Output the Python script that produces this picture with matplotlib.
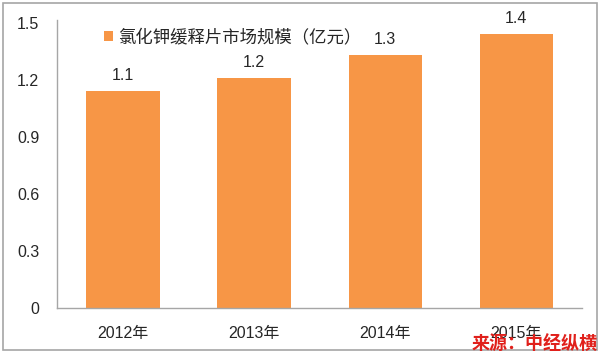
import matplotlib
matplotlib.use("Agg")
import matplotlib.pyplot as plt
from matplotlib.patches import Rectangle

plt.rcParams['font.family'] = ['Liberation Sans', 'Noto Sans CJK SC', 'DejaVu Sans']

# data
years = ['2012年', '2013年', '2014年', '2015年']
market_size = [1.14, 1.21, 1.33, 1.44]
yticks = [0, 0.3, 0.6, 0.9, 1.2, 1.5]
series_name = '氯化钾缓释片市场规模（亿元）'
source = '来源：中经纵横'

fig = plt.figure(figsize=(6.04, 3.56), dpi=100)
ax = fig.add_axes([0.0949, 0.1362, 0.8687, 0.8076])

bars = ax.bar(years, market_size, width=0.56, color='#F79646', label=series_name)
ax.bar_label(bars, fmt='%.1f', padding=6, fontsize=11.5, color='#262626')

ax.set_ylim(0, 1.516)
ax.set_xlim(-0.5, 3.5)
ax.set_yticks(yticks)
ax.set_yticklabels(['0', '0.3', '0.6', '0.9', '1.2', '1.5'])
ax.tick_params(axis='y', length=0, pad=13, labelsize=11.5, labelcolor='#262626')
ax.tick_params(axis='x', length=0, pad=13, labelsize=11.5, labelcolor='#262626')

for s in ['top', 'right']:
    ax.spines[s].set_visible(False)
for s in ['left', 'bottom']:
    ax.spines[s].set_color('#A6A6A6')
    ax.spines[s].set_linewidth(1)

leg = ax.legend(loc='upper left', bbox_to_anchor=(0.06, 1.025), frameon=False,
                handlelength=0.5, handleheight=0.5, handletextpad=0.3,
                prop={'family': ['Noto Sans CJK SC'], 'size': 12.5})
for t in leg.get_texts():
    t.set_color('#262626')

# outer frame
fig.patches.append(Rectangle((3 / 604, 6 / 356), 594 / 604, 347 / 356,
                             transform=fig.transFigure, fill=False,
                             edgecolor='#A6A6A6', linewidth=1.2))

fig.text(0.99, 12 / 356, source, ha='right', va='center', fontsize=13,
         fontweight='bold', color='#E0201B', family=['Noto Sans CJK SC'])

fig.savefig('out.png', dpi=100)
